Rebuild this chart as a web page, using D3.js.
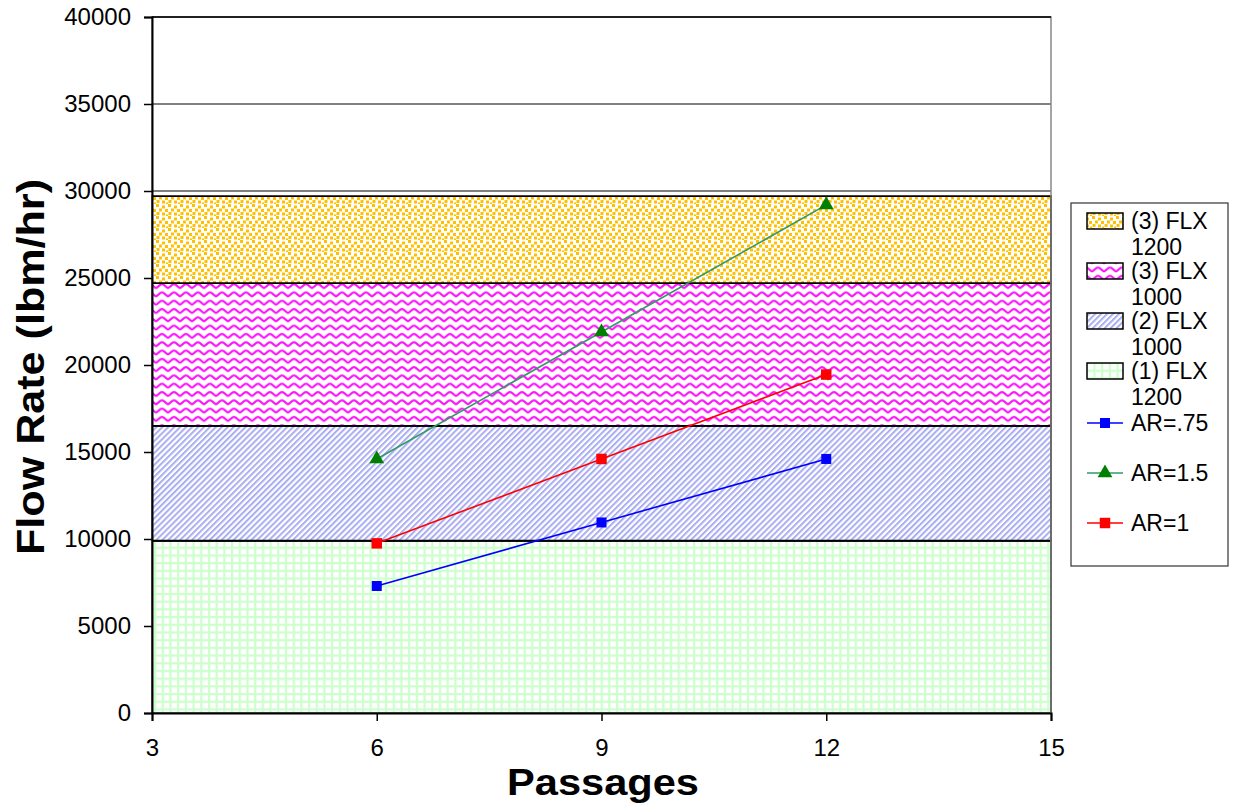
<!DOCTYPE html>
<html>
<head>
<meta charset="utf-8">
<script src="https://cdn.jsdelivr.net/npm/d3@7"></script>
<style>
  html, body { margin: 0; padding: 0; background: #fff; }
  svg { display: block; font-family: "Liberation Sans", Arial, sans-serif; }
</style>
</head>
<body>
<svg id="chart" width="1233" height="811"></svg>
<script>
// Flow rate against number of passages, with FLX capacity bands behind
const passages = [6, 9, 12];
const arSeries = ["AR=.75", "AR=1.5", "AR=1"];
const flowAR075 = [7300, 10950, 14600];
const flowAR15 = [14600, 21900, 29200];
const flowAR1 = [9750, 14600, 19450];

// Stacked capacity bands (bottom to top), each value is the band's thickness
const bandNames = ["(1) FLX 1200", "(2) FLX 1000", "(3) FLX 1000", "(3) FLX 1200"];
const bandHeights = [9900, 6600, 8200, 5000];
const bandSpan = [3, 15];

const xTicks = [3, 6, 9, 12, 15];
const yTicks = [0, 5000, 10000, 15000, 20000, 25000, 30000, 35000, 40000];

const svg = d3.select("#chart");
const plotLeft = 152, plotRight = 1051, plotTop = 17, plotBottom = 713;

const x = d3.scaleLinear().domain([3, 15]).range([plotLeft, plotRight]);
const y = d3.scaleLinear().domain([0, 40000]).range([plotBottom, plotTop]);

// ---- fill patterns ----
const defs = svg.append("defs");

// gold speckle
const pGold = defs.append("pattern").attr("id", "pat-gold")
  .attr("patternUnits", "userSpaceOnUse").attr("width", 12).attr("height", 12);
pGold.append("rect").attr("width", 12).attr("height", 12).attr("fill", "#fff");
[[0,0],[6,1.5],[3,4.5],[9,5],[0.5,8],[6,8.5],[10,10.5]].forEach(([a, b]) => {
  pGold.append("rect").attr("x", a).attr("y", b).attr("width", 3).attr("height", 3)
    .attr("fill", "#FFC000");
});

// magenta waves
const pWave = defs.append("pattern").attr("id", "pat-wave")
  .attr("patternUnits", "userSpaceOnUse").attr("width", 12).attr("height", 8.3);
pWave.append("rect").attr("width", 12).attr("height", 8.3).attr("fill", "#fff");
pWave.append("path")
  .attr("d", "M-1 6 C 1.5 6, 3.5 2, 6 2 C 8.5 2, 10.5 6, 13 6")
  .attr("fill", "none").attr("stroke", "#FF11FF").attr("stroke-width", 2.1);

// blue diagonal hatch
const pDiag = defs.append("pattern").attr("id", "pat-diag")
  .attr("patternUnits", "userSpaceOnUse").attr("width", 4.2).attr("height", 4.2)
  .attr("patternTransform", "rotate(45)");
pDiag.append("rect").attr("width", 4.2).attr("height", 4.2).attr("fill", "#fff");
pDiag.append("rect").attr("width", 2).attr("height", 4.2).attr("fill", "#AAAEF0");

// light green grid
const pGrid = defs.append("pattern").attr("id", "pat-grid")
  .attr("patternUnits", "userSpaceOnUse").attr("width", 7.7).attr("height", 7.7);
pGrid.append("rect").attr("width", 7.7).attr("height", 7.7).attr("fill", "#CCFFCC");
pGrid.append("rect").attr("x", 2.2).attr("y", 2.2).attr("width", 5.5).attr("height", 5.5).attr("fill", "#fff");

const bandFills = ["url(#pat-grid)", "url(#pat-diag)", "url(#pat-wave)", "url(#pat-gold)"];

// ---- gridlines ----
svg.append("g").selectAll("line").data(yTicks.filter(d => d > 0)).join("line")
  .attr("x1", plotLeft).attr("x2", plotRight)
  .attr("y1", d => y(d)).attr("y2", d => y(d))
  .attr("stroke", "#000").attr("stroke-width", 1.2);

// ---- stacked bands ----
const bandRows = bandSpan.map(p => {
  const row = { p };
  bandNames.forEach((n, i) => row[n] = bandHeights[i]);
  return row;
});
const stacked = d3.stack().keys(bandNames)(bandRows);
const area = d3.area().x(d => x(d.data.p)).y0(d => y(d[0])).y1(d => y(d[1]));
svg.append("g").selectAll("path").data(stacked).join("path")
  .attr("d", area)
  .attr("fill", (d, i) => bandFills[i])
  .attr("stroke", "#000").attr("stroke-width", 1.8);

// plot area border
svg.append("rect").attr("x", plotLeft).attr("y", plotTop)
  .attr("width", plotRight - plotLeft).attr("height", plotBottom - plotTop)
  .attr("fill", "none").attr("stroke", "#888").attr("stroke-width", 1.5);
svg.append("line").attr("x1", plotLeft).attr("x2", plotRight).attr("y1", plotTop).attr("y2", plotTop)
  .attr("stroke", "#000").attr("stroke-width", 1.5);

// ---- axes ----
const fontSize = 24;
const yAxis = svg.append("g").attr("transform", `translate(${plotLeft},0)`)
  .call(d3.axisLeft(y).tickValues(yTicks).tickFormat(d3.format("d")).tickSize(8).tickPadding(13));
const xAxis = svg.append("g").attr("transform", `translate(0,${plotBottom})`)
  .call(d3.axisBottom(x).tickValues(xTicks).tickFormat(d3.format("d")).tickSize(8).tickPadding(18));
[yAxis, xAxis].forEach(g => {
  g.select(".domain").attr("stroke", "#000").attr("stroke-width", 2);
  g.selectAll(".tick line").attr("stroke", "#000").attr("stroke-width", 1.5);
  g.selectAll(".tick text").attr("font-size", fontSize).attr("fill", "#000")
    .attr("font-family", "'Liberation Sans', Arial, sans-serif");
});

// axis titles
svg.append("text").attr("x", 603).attr("y", 795)
  .attr("text-anchor", "middle").attr("font-size", 37).attr("font-weight", "bold")
  .attr("textLength", 192).attr("lengthAdjust", "spacingAndGlyphs")
  .text("Passages");
svg.append("text").attr("transform", "translate(44,367) rotate(-90)")
  .attr("text-anchor", "middle").attr("font-size", 38).attr("font-weight", "bold")
  .attr("textLength", 376).attr("lengthAdjust", "spacingAndGlyphs")
  .text("Flow Rate (lbm/hr)");

// ---- line series ----
const seriesData = [flowAR075, flowAR15, flowAR1];
const lineColors = ["#0000FF", "#339966", "#FF0000"];
const markerColors = ["#0000FF", "#008000", "#FF0000"];
const markerShapes = [d3.symbolSquare, d3.symbolTriangle, d3.symbolSquare];
const markerSizes = [100, 95, 110];

const line = d3.line().x(d => x(d[0])).y(d => y(d[1]));
seriesData.forEach((vals, i) => {
  const pts = passages.map((p, j) => [p, vals[j]]);
  svg.append("path").datum(pts).attr("d", line)
    .attr("fill", "none").attr("stroke", lineColors[i]).attr("stroke-width", 1.6);
  svg.append("g").selectAll("path").data(pts).join("path")
    .attr("transform", d => `translate(${x(d[0])},${y(d[1])})`)
    .attr("d", d3.symbol().type(markerShapes[i]).size(markerSizes[i]))
    .attr("fill", markerColors[i]);
});

// ---- legend ----
const legendFont = 23;
const lg = svg.append("g");
lg.append("rect").attr("x", 1071).attr("y", 203).attr("width", 157).attr("height", 363)
  .attr("fill", "#fff").attr("stroke", "#333").attr("stroke-width", 1.2);

const legendBands = [3, 2, 1, 0];
legendBands.forEach((bi, k) => {
  const ty = 213 + k * 50;
  lg.append("rect").attr("x", 1087).attr("y", ty).attr("width", 36).attr("height", 16)
    .attr("fill", bandFills[bi]).attr("stroke", "#000").attr("stroke-width", 1.5);
  const words = bandNames[bi].split(" ");
  const t = lg.append("text").attr("x", 1131).attr("y", ty + 16).attr("font-size", legendFont);
  t.append("tspan").attr("x", 1131).text(words.slice(0, 2).join(" "));
  t.append("tspan").attr("x", 1131).attr("dy", 26).text(words[2]);
});
arSeries.forEach((name, i) => {
  const cy = 423 + i * 50;
  lg.append("line").attr("x1", 1087).attr("x2", 1123).attr("y1", cy).attr("y2", cy)
    .attr("stroke", lineColors[i]).attr("stroke-width", 1.6);
  lg.append("path").attr("transform", `translate(1105,${cy})`)
    .attr("d", d3.symbol().type(markerShapes[i]).size(markerSizes[i]))
    .attr("fill", markerColors[i]);
  lg.append("text").attr("x", 1131).attr("y", cy + 8).attr("font-size", legendFont).text(name);
});
</script>
</body>
</html>
